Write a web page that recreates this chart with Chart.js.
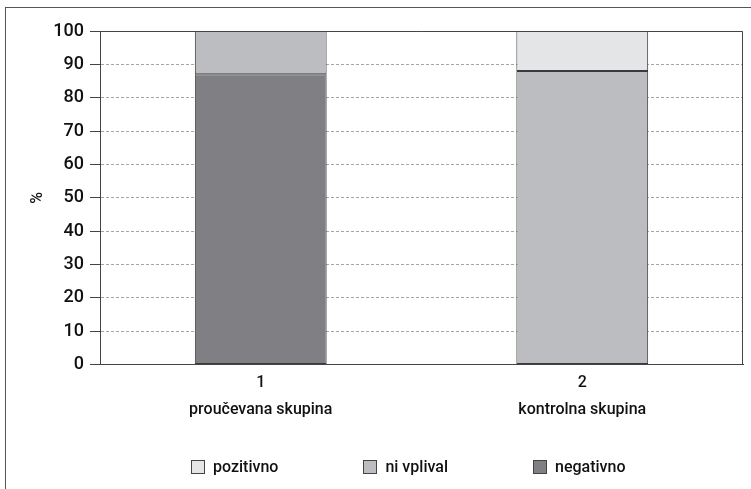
<!DOCTYPE html>
<html>
<head>
<meta charset="utf-8">
<script src="https://cdn.jsdelivr.net/npm/chart.js@4.4.1/dist/chart.umd.min.js"></script>
<style>
  body { margin: 0; background: #fff; }
  #wrap { position: relative; width: 751px; height: 489px; overflow: hidden; }
  #frame { position: absolute; left: 5px; top: 7px; width: 800px; height: 600px;
           border-left: 1px solid #555; border-top: 1px solid #555; }
  #chart { position: absolute; left: 0; top: 0; }
  #legend { position: absolute; top: 457px; left: 191px; display: flex;
            font-family: Roboto, sans-serif; font-size: 16px; font-weight: 500; color: #111; }
  #legend .item { display: flex; align-items: center; }
  #legend .box { width: 14px; height: 14px; border: 1px solid #444; margin-right: 8px; box-sizing: border-box; }
</style>
</head>
<body>
<div id="wrap">
  <div id="frame"></div>
  <canvas id="chart" width="751" height="489"></canvas>
  <div id="legend"></div>
</div>
<script>
// podatki, odčitani s slike
const categories = [['1', 'proučevana skupina'], ['2', 'kontrolna skupina']];
const negativno = [87, 0];
const niVplival = [13, 88];
const pozitivno = [0, 12];
const seriesNames = ['negativno', 'ni vplival', 'pozitivno'];
const seriesColors = ['#808084', '#bcbdc0', '#e4e5e7'];

const font = 'Roboto, sans-serif';

// okvir okoli območja grafa
const areaBorder = {
    id: 'areaBorder',
    afterDatasetsDraw(chart) {
        const { ctx, chartArea: a } = chart;
        ctx.save();
        ctx.strokeStyle = '#444';
        ctx.lineWidth = 1;
        ctx.beginPath();
        ctx.moveTo(a.left, a.top + 0.5);
        ctx.lineTo(a.right - 0.5, a.top + 0.5);
        ctx.lineTo(a.right - 0.5, a.bottom);
        ctx.stroke();
        ctx.restore();
    }
};

const values = [negativno, niVplival, pozitivno];
const datasets = seriesNames.map((name, i) => ({
    label: name,
    data: values[i],
    backgroundColor: seriesColors[i],
    borderColor: '#3a3a3a',
    borderWidth: (c) => (c.raw ? 1 : 0),
    borderSkipped: false,
    barPercentage: 0.41,
    categoryPercentage: 1
}));

new Chart(document.getElementById('chart'), {
    type: 'bar',
    data: { labels: categories, datasets: datasets },
    options: {
        responsive: false,
        animation: false,
        layout: { padding: { left: 28, right: 8, top: 31, bottom: 60 } },
        plugins: { legend: { display: false }, tooltip: { enabled: false } },
        scales: {
            x: {
                stacked: true,
                grid: { display: false, drawTicks: false },
                border: { display: true, color: '#444' },
                ticks: { color: '#111', padding: 5, font: { family: font, size: 16, weight: '500', lineHeight: 1.7 } }
            },
            y: {
                stacked: true,
                min: 0,
                max: 100,
                afterFit: (s) => { s.width = 72; },
                ticks: { stepSize: 10, color: '#111', padding: 6, font: { family: font, size: 18, weight: '500' } },
                grid: { color: '#a5a5a5', tickColor: '#444', tickLength: 10, tickBorderDash: [] },
                border: { display: true, color: '#444', dash: [3, 2] },
                title: { display: true, text: '%', color: '#111', padding: 0, font: { family: font, size: 16, weight: '500' } }
            }
        }
    },
    plugins: [areaBorder]
});

// legenda
const legend = document.getElementById('legend');
[2, 1, 0].forEach((i, k) => {
    const item = document.createElement('div');
    item.className = 'item';
    if (k > 0) item.style.marginLeft = '85px';
    item.innerHTML = '<span class="box" style="background:' + seriesColors[i] + '"></span>' + seriesNames[i];
    legend.appendChild(item);
});
</script>
</body>
</html>
